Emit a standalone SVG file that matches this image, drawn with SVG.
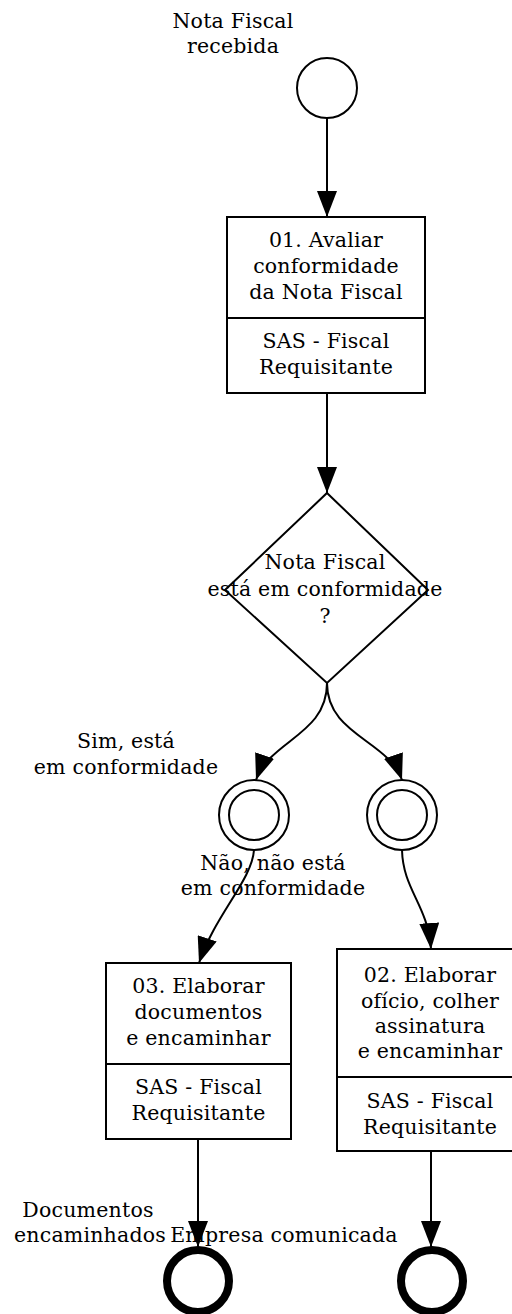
<svg xmlns="http://www.w3.org/2000/svg" width="512" height="1314" viewBox="0 0 512 1314">
<style>
  text { font-family: "DejaVu Serif", "Liberation Serif", serif; font-size: 20.5px; letter-spacing: 0.2px; fill: #000; text-anchor: middle; }
  .shape { fill: #fff; stroke: #000; stroke-width: 2; }
  .end { fill: none; stroke: #000; stroke-width: 8; }
  .conn { fill: none; stroke: #000; stroke-width: 2; }
</style>
<defs>
  <marker id="arrow" markerUnits="userSpaceOnUse" viewBox="0 0 26 20" refX="26" refY="10" markerWidth="26" markerHeight="20" orient="auto">
    <path d="M0,0 L26,10 L0,20 z" fill="#000"/>
  </marker>
</defs>
<rect width="512" height="1314" fill="#fff"/>

<g id="connectors">
  <path class="conn" d="M327,118 L327,217" marker-end="url(#arrow)"/>
  <path class="conn" d="M327,393 L327,493" marker-end="url(#arrow)"/>
  <path class="conn" d="M327,683 C327,735 270,740 256,780" marker-end="url(#arrow)"/>
  <path class="conn" d="M327,683 C327,735 388,740 402,780" marker-end="url(#arrow)"/>
  <path class="conn" d="M254,850 C252,880 215,915 199,963" marker-end="url(#arrow)"/>
  <path class="conn" d="M402,850 C403,890 428,905 431,949" marker-end="url(#arrow)"/>
  <path class="conn" d="M198,1139 L198,1247" marker-end="url(#arrow)"/>
  <path class="conn" d="M431,1151 L431,1247" marker-end="url(#arrow)"/>
</g>

<g id="start">
  <circle class="shape" cx="327" cy="88" r="30"/>
  <text x="233" y="28">Nota Fiscal</text>
  <text x="233" y="53">recebida</text>
</g>

<g id="task01">
  <rect class="shape" x="227" y="217" width="198" height="176"/>
  <line class="conn" x1="227" y1="318" x2="425" y2="318"/>
  <text x="326" y="247">01. Avaliar</text>
  <text x="326" y="273">conformidade</text>
  <text x="326" y="299">da Nota Fiscal</text>
  <text x="326" y="348">SAS - Fiscal</text>
  <text x="326" y="374">Requisitante</text>
</g>

<g id="gateway">
  <polygon class="shape" points="327,493 428,590 327,683 225,590"/>
  <text x="325" y="569">Nota Fiscal</text>
  <text x="325" y="596">está em conformidade</text>
  <text x="325" y="623">?</text>
</g>

<g id="event-sim">
  <circle class="shape" cx="254" cy="815" r="35"/>
  <circle class="shape" cx="254" cy="815" r="25"/>
  <text x="126" y="748">Sim, está</text>
  <text x="126" y="774">em conformidade</text>
</g>

<g id="event-nao">
  <circle class="shape" cx="402" cy="815" r="35"/>
  <circle class="shape" cx="402" cy="815" r="25"/>
</g>

<g id="task03">
  <rect class="shape" x="106" y="963" width="185" height="176"/>
  <line class="conn" x1="106" y1="1064" x2="291" y2="1064"/>
  <text x="198.5" y="993">03. Elaborar</text>
  <text x="198.5" y="1019">documentos</text>
  <text x="198.5" y="1045">e encaminhar</text>
  <text x="198.5" y="1094">SAS - Fiscal</text>
  <text x="198.5" y="1120">Requisitante</text>
</g>

<g id="task02">
  <rect class="shape" x="337" y="949" width="186" height="202"/>
  <line class="conn" x1="337" y1="1077" x2="523" y2="1077"/>
  <text x="430" y="982">02. Elaborar</text>
  <text x="430" y="1008">ofício, colher</text>
  <text x="430" y="1033">assinatura</text>
  <text x="430" y="1058">e encaminhar</text>
  <text x="430" y="1108">SAS - Fiscal</text>
  <text x="430" y="1134">Requisitante</text>
</g>

<g id="label-nao">
  <text x="273" y="870">Não, não está</text>
  <text x="273" y="895">em conformidade</text>
</g>

<g id="end-documentos">
  <circle class="end" cx="198" cy="1281" r="31"/>
  <text x="88" y="1217">Documentos</text>
  <text x="90" y="1242">encaminhados</text>
</g>

<g id="end-empresa">
  <circle class="end" cx="432" cy="1281" r="31"/>
  <text x="284" y="1242">Empresa comunicada</text>
</g>
</svg>
